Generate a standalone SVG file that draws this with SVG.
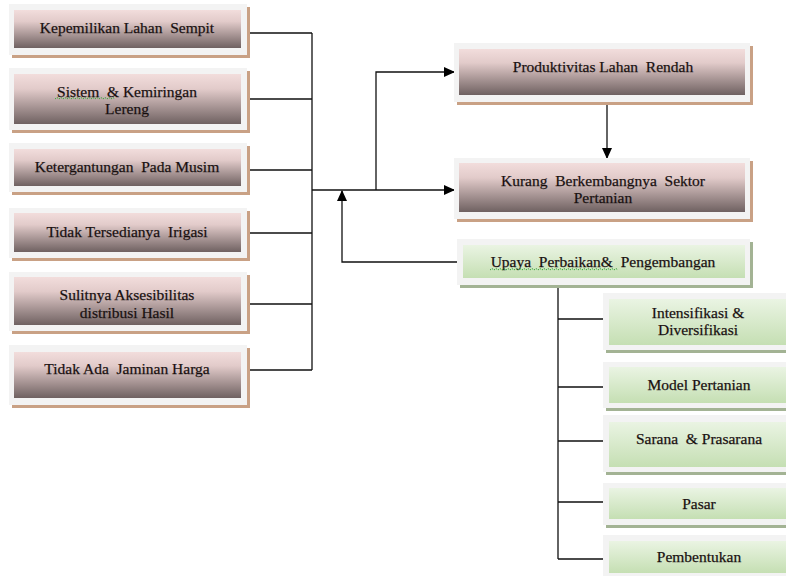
<svg xmlns="http://www.w3.org/2000/svg" width="786" height="576" viewBox="0 0 786 576">
<style>
text{font-family:'Liberation Serif','Times New Roman',serif;font-size:15.5px;fill:#140c0c;stroke:#2a2020;stroke-width:0.25;text-anchor:middle;white-space:pre}
.frame{fill:#f3f3f3}
.bsh{fill:#c9a185}
.gsh{fill:#a3b394}
.brown{fill:url(#gb)}
.green{fill:url(#gg)}
.ln{fill:none;stroke:#111;stroke-width:1.3}
.arr{marker-end:url(#ah)}
.sq{fill:none;stroke:#3aa53a;stroke-width:1;stroke-dasharray:1.5 1}
</style>
<defs>
<linearGradient id="gb" x1="0" y1="0" x2="0" y2="1">
<stop offset="0" stop-color="#f2dddc"/>
<stop offset="0.3" stop-color="#e2cbca"/>
<stop offset="1" stop-color="#6f6161"/>
</linearGradient>
<linearGradient id="gg" x1="0" y1="0" x2="0" y2="1">
<stop offset="0" stop-color="#eaf4e3"/>
<stop offset="1" stop-color="#c5dfb3"/>
</linearGradient>
<marker id="ah" markerWidth="11" markerHeight="10" refX="10" refY="5" orient="auto" markerUnits="userSpaceOnUse">
<path d="M0,0 L11,5 L0,10 Z" fill="#000"/>
</marker>
</defs>

<g id="connectors">
<path class="ln" d="M247,33H312M247,99H312M247,170H312M247,233H312M247,304H312M247,370H312M312,33V370"/>
<path class="ln arr" d="M312,190H454"/>
<path class="ln arr" d="M376,190V72H454"/>
<path class="ln arr" d="M458,262H342V191"/>
<path class="ln arr" d="M607,102V158"/>
<path class="ln" d="M558,285V559M558,319H603M558,387H603M558,441H603M558,502H603M558,559H603"/>
</g>

<g id="n1">
<rect class="bsh" x="12" y="7" width="238" height="51"/>
<rect class="frame" x="9" y="4" width="238" height="51"/>
<rect class="brown" x="14" y="10" width="227" height="38"/>
<text x="127" y="33">Kepemilikan Lahan  Sempit</text>
</g>
<g id="n2">
<rect class="bsh" x="12" y="71" width="238" height="62"/>
<rect class="frame" x="9" y="68" width="238" height="62"/>
<rect class="brown" x="14" y="74" width="227" height="50"/>
<text x="127" y="97">Sistem  &amp; Kemiringan</text>
<text x="127" y="114">Lereng</text>
<path class="sq" d="M55,99l2,-1.5l2,1.5l2,-1.5l2,1.5l2,-1.5l2,1.5l2,-1.5l2,1.5l2,-1.5l2,1.5l2,-1.5l2,1.5l2,-1.5l2,1.5l2,-1.5l2,1.5l2,-1.5l2,1.5l2,-1.5l2,1.5l2,-1.5l2,1.5l2,-1.5l2,1.5l2,-1.5l2,1.5l2,-1.5l2,1.5l2,-1.5l2,1.5"/>
</g>
<g id="n3">
<rect class="bsh" x="12" y="146" width="238" height="49"/>
<rect class="frame" x="9" y="143" width="238" height="49"/>
<rect class="brown" x="14" y="149" width="227" height="37"/>
<text x="127" y="172">Ketergantungan  Pada Musim</text>
</g>
<g id="n4">
<rect class="bsh" x="12" y="211" width="238" height="50"/>
<rect class="frame" x="9" y="208" width="238" height="50"/>
<rect class="brown" x="14" y="213" width="227" height="39"/>
<text x="127" y="237">Tidak Tersedianya  Irigasi</text>
</g>
<g id="n5">
<rect class="bsh" x="12" y="275" width="238" height="59"/>
<rect class="frame" x="9" y="272" width="238" height="59"/>
<rect class="brown" x="14" y="277" width="227" height="48"/>
<text x="127" y="300">Sulitnya Aksesibilitas</text>
<text x="127" y="318">distribusi Hasil</text>
</g>
<g id="n6">
<rect class="bsh" x="12" y="348" width="238" height="60"/>
<rect class="frame" x="9" y="345" width="238" height="60"/>
<rect class="brown" x="14" y="352" width="227" height="46"/>
<text x="127" y="374">Tidak Ada  Jaminan Harga</text>
</g>

<g id="n7">
<rect class="bsh" x="457" y="46" width="296" height="59"/>
<rect class="frame" x="454" y="43" width="296" height="59"/>
<rect class="brown" x="459" y="49" width="286" height="46"/>
<text x="603" y="72">Produktivitas Lahan  Rendah</text>
</g>
<g id="n8">
<rect class="bsh" x="457" y="161" width="296" height="61"/>
<rect class="frame" x="454" y="158" width="296" height="61"/>
<rect class="brown" x="459" y="163" width="286" height="49"/>
<text x="603" y="186">Kurang  Berkembangnya  Sektor</text>
<text x="603" y="203">Pertanian</text>
</g>
<g id="n9">
<rect class="gsh" x="460" y="242" width="293" height="46"/>
<rect class="frame" x="457" y="239" width="293" height="46"/>
<rect class="green" x="463" y="245" width="282" height="33"/>
<text x="603" y="267">Upaya  Perbaikan&amp;  Pengembangan</text>
<path class="sq" d="M490,270l2,-1.5l2,1.5l2,-1.5l2,1.5l2,-1.5l2,1.5l2,-1.5l2,1.5l2,-1.5l2,1.5l2,-1.5l2,1.5l2,-1.5l2,1.5l2,-1.5l2,1.5l2,-1.5l2,1.5l2,-1.5l2,1.5l2,-1.5l2,1.5l2,-1.5l2,1.5l2,-1.5l2,1.5l2,-1.5l2,1.5l2,-1.5l2,1.5l2,-1.5l2,1.5l2,-1.5l2,1.5l2,-1.5l2,1.5l2,-1.5l2,1.5l2,-1.5l2,1.5l2,-1.5l2,1.5l2,-1.5l2,1.5l2,-1.5l2,1.5l2,-1.5l2,1.5l2,-1.5l2,1.5l2,-1.5l2,1.5l2,-1.5l2,1.5l2,-1.5l2,1.5l2,-1.5l2,1.5l2,-1.5l2,1.5l2,-1.5l2,1.5l2,-1.5l2,1.5"/>
</g>

<g id="n10">
<rect class="gsh" x="606" y="296" width="190" height="57"/>
<rect class="frame" x="603" y="293" width="190" height="57"/>
<rect class="green" x="609" y="299" width="190" height="46"/>
<text x="698" y="318">Intensifikasi &amp;</text>
<text x="698" y="335">Diversifikasi</text>
</g>
<g id="n11">
<rect class="gsh" x="606" y="365" width="190" height="46"/>
<rect class="frame" x="603" y="362" width="190" height="46"/>
<rect class="green" x="609" y="367" width="190" height="36"/>
<text x="699" y="390">Model Pertanian</text>
</g>
<g id="n12">
<rect class="gsh" x="606" y="418" width="190" height="57"/>
<rect class="frame" x="603" y="415" width="190" height="57"/>
<rect class="green" x="609" y="422" width="190" height="45"/>
<text x="699" y="444">Sarana  &amp; Prasarana</text>
</g>
<g id="n13">
<rect class="gsh" x="606" y="486" width="190" height="42"/>
<rect class="frame" x="603" y="483" width="190" height="42"/>
<rect class="green" x="609" y="488" width="190" height="31"/>
<text x="699" y="509">Pasar</text>
</g>
<g id="n14">
<rect class="gsh" x="606" y="538" width="190" height="45"/>
<rect class="frame" x="603" y="535" width="190" height="45"/>
<rect class="green" x="609" y="541" width="190" height="32"/>
<text x="699" y="562">Pembentukan</text>
</g>
</svg>
